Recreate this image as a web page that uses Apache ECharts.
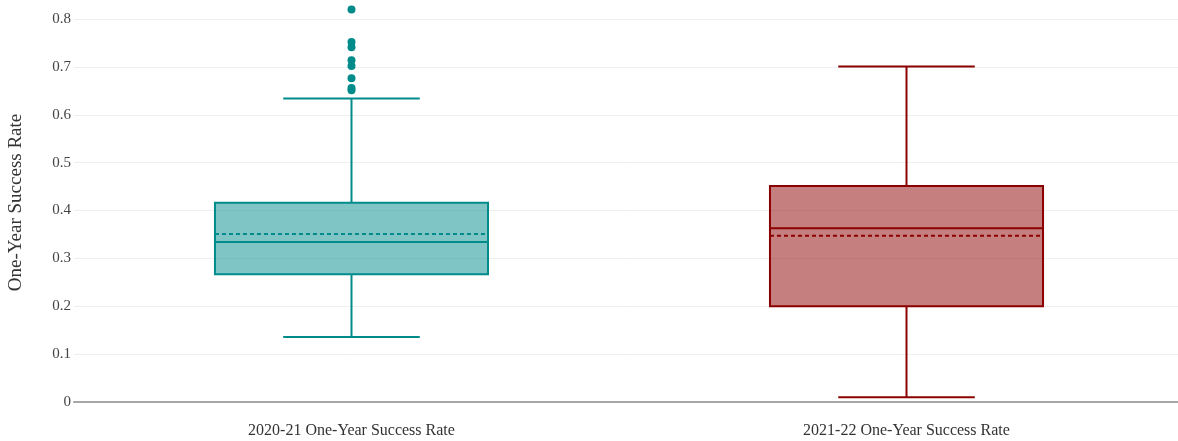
<!DOCTYPE html>
<html>
<head>
<meta charset="utf-8">
<script src="https://cdn.jsdelivr.net/npm/echarts@6/dist/echarts.min.js"></script>
<style>
  html, body { margin: 0; padding: 0; background: #fff; }
  #chart { width: 1178px; height: 441px; }
</style>
</head>
<body>
<div id="chart"></div>
<script>
// Box summary for each year
const categories = ['2020-21 One-Year Success Rate', '2021-22 One-Year Success Rate'];
const lowerWhisker = [0.136, 0.010];
const q1 = [0.267, 0.200];
const median = [0.334, 0.363];
const q3 = [0.416, 0.451];
const upperWhisker = [0.634, 0.701];
const mean = [0.351, 0.347];
// Outlying points (2020-21 only)
const outliers2020 = [0.820, 0.752, 0.741, 0.714, 0.702, 0.676, 0.656, 0.651];
const yTicks = [0, 0.1, 0.2, 0.3, 0.4, 0.5, 0.6, 0.7, 0.8];

const strokeColors = ['#008b8b', '#8b0000'];
const fillColors = ['rgba(0,139,139,0.5)', 'rgba(139,0,0,0.5)'];
const FONT = '"Liberation Serif", "Times New Roman", serif';

const boxData = categories.map((c, i) =>
  [i, lowerWhisker[i], q1[i], median[i], q3[i], upperWhisker[i], mean[i]]);

function renderBox(params, api) {
  const idx = api.value(0);
  const band = api.size([1, 0])[0];
  const half = band * 0.246;
  const capHalf = half / 2;
  const pLow = api.coord([idx, api.value(1)]);
  const pQ1 = api.coord([idx, api.value(2)]);
  const pMed = api.coord([idx, api.value(3)]);
  const pQ3 = api.coord([idx, api.value(4)]);
  const pHigh = api.coord([idx, api.value(5)]);
  const pMean = api.coord([idx, api.value(6)]);
  const cx = pMed[0];
  const stroke = strokeColors[idx];
  const lineStyle = { stroke: stroke, lineWidth: 2, fill: null };
  const line = (x1, y1, x2, y2, extra) => ({
    type: 'line',
    shape: { x1: x1, y1: y1, x2: x2, y2: y2 },
    style: Object.assign({}, lineStyle, extra || {})
  });
  return {
    type: 'group',
    children: [
      line(cx, pHigh[1], cx, pQ3[1]),
      line(cx, pQ1[1], cx, pLow[1]),
      line(cx - capHalf, pHigh[1], cx + capHalf, pHigh[1]),
      line(cx - capHalf, pLow[1], cx + capHalf, pLow[1]),
      {
        type: 'rect',
        shape: { x: cx - half, y: pQ3[1], width: half * 2, height: pQ1[1] - pQ3[1] },
        style: { fill: fillColors[idx], stroke: stroke, lineWidth: 2 }
      },
      line(cx - half, pMed[1], cx + half, pMed[1]),
      line(cx - half, pMean[1], cx + half, pMean[1], { lineDash: [4, 3] })
    ]
  };
}

const chart = echarts.init(document.getElementById('chart'), null, { renderer: 'canvas' });
chart.setOption({
  animation: false,
  backgroundColor: '#fff',
  grid: {
    left: 74, width: 1110, top: 19, bottom: 39,
    containLabel: false, outerBoundsMode: 'none'
  },
  xAxis: {
    type: 'category',
    data: categories,
    axisLine: { show: true, lineStyle: { color: '#a6a6a6', width: 2 } },
    axisTick: { show: false },
    splitLine: { show: false },
    axisLabel: { color: '#333', fontFamily: FONT, fontSize: 16, margin: 21 }
  },
  yAxis: {
    type: 'value',
    min: yTicks[0],
    max: yTicks[yTicks.length - 1],
    interval: 0.1,
    name: 'One-Year Success Rate',
    nameLocation: 'middle',
    nameRotate: 90,
    nameGap: 48,
    nameTextStyle: { color: '#333', fontFamily: FONT, fontSize: 19, padding: [0, 0, 0, 16] },
    axisLine: { show: false },
    axisTick: { show: false },
    splitLine: { show: true, lineStyle: { color: '#efefef', width: 1 } },
    axisLabel: {
      color: '#444', fontFamily: FONT, fontSize: 15, margin: 3,
      formatter: v => String(Math.round(v * 10) / 10)
    }
  },
  series: [
    {
      type: 'custom',
      clip: false,
      renderItem: renderBox,
      encode: { x: 0, y: [1, 2, 3, 4, 5, 6] },
      data: boxData,
      z: 2
    },
    {
      type: 'scatter',
      clip: false,
      symbol: 'circle',
      symbolSize: 8,
      itemStyle: { color: strokeColors[0], opacity: 1 },
      data: outliers2020.map(v => [0, v]),
      z: 3
    }
  ]
});
</script>
</body>
</html>
